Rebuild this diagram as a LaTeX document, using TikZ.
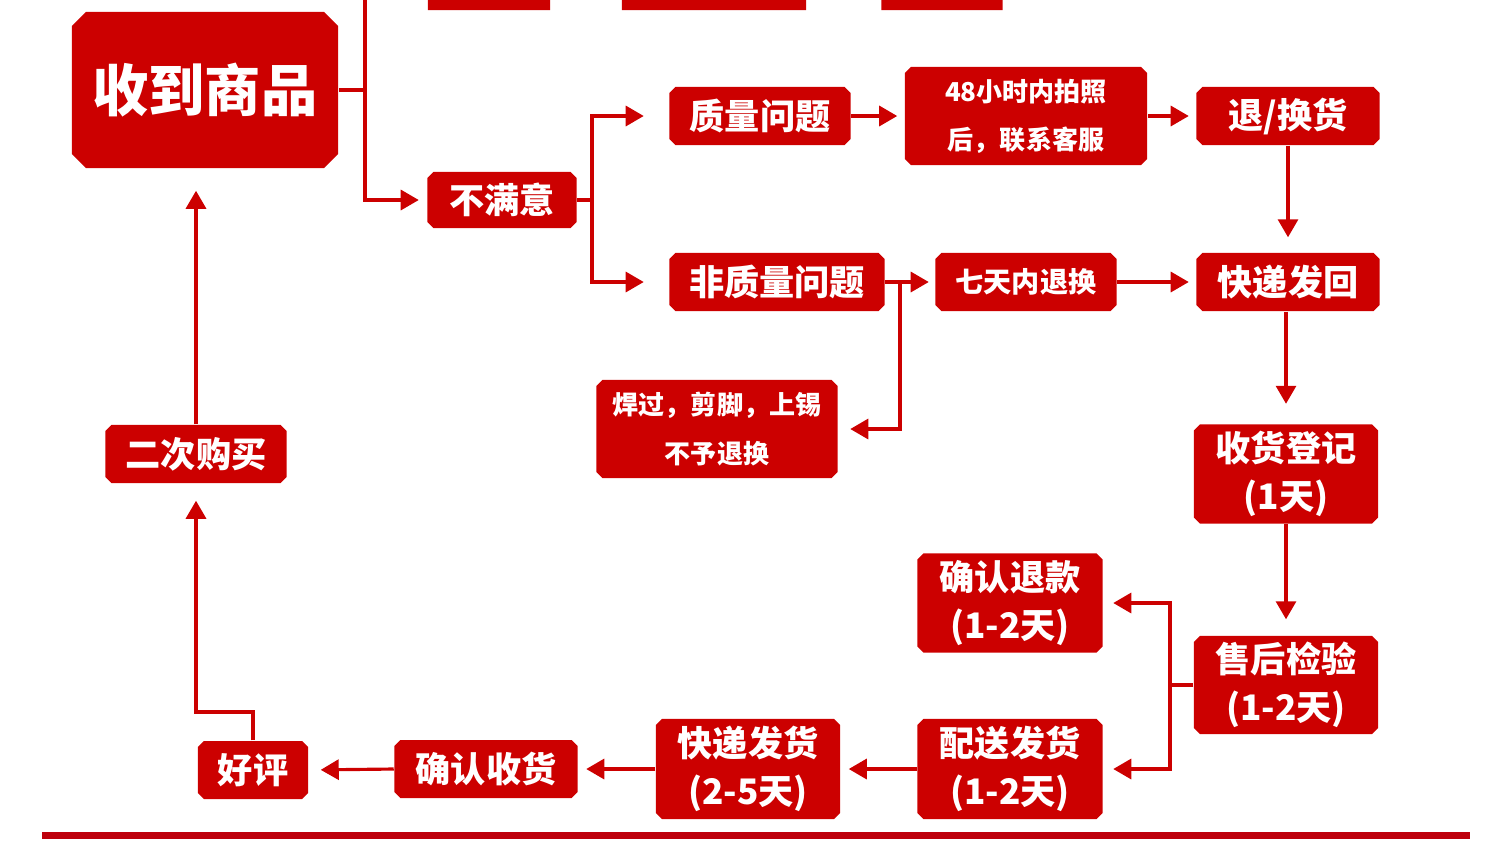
\documentclass[tikz,border=0pt]{standalone}
\usepackage{fontspec}
\newfontfamily\cjk{Noto Sans CJK SC}
\usetikzlibrary{shapes.misc, arrows.meta, positioning}
\definecolor{boxred}{RGB}{204,0,0}
\definecolor{rulered}{RGB}{190,0,12}
\tikzstyle{stepbox}=[chamfered rectangle, chamfered rectangle xsep=0.03cm, chamfered rectangle ysep=0.03cm, fill=boxred, text=white, inner sep=0pt, align=center, minimum height=0.58cm, font=\cjk\bfseries\fontsize{10}{13.7}\selectfont]
\tikzstyle{smallbox}=[stepbox, font=\cjk\bfseries\fontsize{7.4}{13.7}\selectfont]
\tikzstyle{link}=[draw=boxred, line width=0.9pt]
\tikzstyle{arr}=[link, -{Triangle[length=0.18cm,width=0.2cm]}]

\begin{document}
\begin{tikzpicture}[x=0.01cm, y=-0.01cm]
\useasboundingbox (0,0) rectangle (1500,860);
\clip (0,0) rectangle (1500,860);
%top row (cut off)
\node[stepbox, minimum width=1.22cm] (t1) at (489,-19) {};
\node[stepbox, minimum width=1.84cm] (t2) at (714,-19) {};
\node[stepbox, minimum width=1.21cm] (t3) at (942,-19) {};
%main steps
\node[stepbox, minimum width=2.66cm, minimum height=1.56cm, chamfered rectangle xsep=0.07cm, chamfered rectangle ysep=0.07cm, font=\cjk\bfseries\fontsize{16}{18}\selectfont] (recv) at (205,90) {收到商品};
\node[stepbox, minimum width=1.49cm, minimum height=0.56cm] (unsat) at (502,200) {不满意};
\node[stepbox, minimum width=1.81cm] (q) at (760,116) {质量问题};
\node[smallbox, minimum width=2.42cm, minimum height=0.98cm] (photo) at (1026,116) {48小时内拍照\\后，联系客服};
\node[stepbox, minimum width=1.83cm] (ret) at (1288,116) {退/换货};
\node[stepbox, minimum width=2.15cm] (nq) at (777,282) {非质量问题};
\node[smallbox, minimum width=1.81cm, font=\cjk\bfseries\fontsize{8}{10}\selectfont] (seven) at (1026,282) {七天内退换};
\node[stepbox, minimum width=1.83cm] (back) at (1288,282) {快递发回};
\node[smallbox, minimum width=2.41cm, minimum height=0.98cm] (weld) at (717,429) {焊过，剪脚，上锡\\不予退换};
\node[stepbox, minimum width=1.84cm, minimum height=0.99cm] (reg) at (1286,474) {收货登记\\(1天)};
\node[stepbox, minimum width=1.84cm, minimum height=0.98cm] (check) at (1286,685) {售后检验\\(1-2天)};
\node[stepbox, minimum width=1.85cm, minimum height=0.99cm] (refund) at (1010,603) {确认退款\\(1-2天)};
\node[stepbox, minimum width=1.85cm, minimum height=1cm] (ship) at (1010,769) {配送发货\\(1-2天)};
\node[stepbox, minimum width=1.84cm, minimum height=1cm] (expr) at (748,769) {快递发货\\(2-5天)};
\node[stepbox, minimum width=1.83cm] (conf) at (486,769) {确认收货};
\node[stepbox, minimum width=1.1cm] (good) at (253,770) {好评};
\node[stepbox, minimum width=1.81cm] (buy2) at (196,454) {二次购买};
%junctions
\coordinate (topend) at (365,-20);
\coordinate (j1) at (365,90);
\coordinate (j2) at (592,200);
\coordinate (j3) at (900,282);
\coordinate (j4) at (1170,685);
\coordinate (j5) at (253,712);
%connectors
\draw[link] (recv.east) -- (j1);
\draw[arr, shorten >=0.08cm] (topend) |- (unsat.west);
\draw[link] (unsat.east) -- (j2);
\draw[arr, shorten >=0.25cm] (j2) |- (q.west);
\draw[arr, shorten >=0.25cm] (j2) |- (nq.west);
\draw[arr, shorten >=0.07cm] (q.east) -- (photo.west);
\draw[arr, shorten >=0.07cm] (photo.east) -- (ret.west);
\draw[arr, shorten >=0.15cm] (ret.south) -- (back.north);
\draw[arr, shorten >=0.06cm] (nq.east) -- (seven.west);
\draw[arr, shorten >=0.12cm] (j3) |- (weld.east);
\draw[arr, shorten >=0.07cm] (seven.east) -- (back.west);
\draw[arr, shorten >=0.2cm] (reg.north |- back.south) -- (reg.north);
\draw[arr, shorten >=0.16cm] (reg.south) -- (check.north);
\draw[link] (check.west) -- (j4);
\draw[arr, shorten >=0.1cm] (j4) |- (refund.east);
\draw[arr, shorten >=0.1cm] (j4) |- (ship.east);
\draw[arr, shorten >=0.08cm] (ship.west) -- (expr.east);
\draw[arr, shorten >=0.08cm] (expr.west) -- (expr.west -| conf.east);
\draw[arr, shorten >=0.12cm] (conf.west) -- (good.east);
\draw[arr, shorten >=0.17cm] (good.north) -- (j5) -| (buy2.south);
\draw[arr, shorten >=0.22cm] (buy2.north) -- (buy2.north |- recv.south);
%bottom rule
\draw[rulered, line width=0.07cm] (42,835) -- (1470,835);
\end{tikzpicture}
\end{document}
